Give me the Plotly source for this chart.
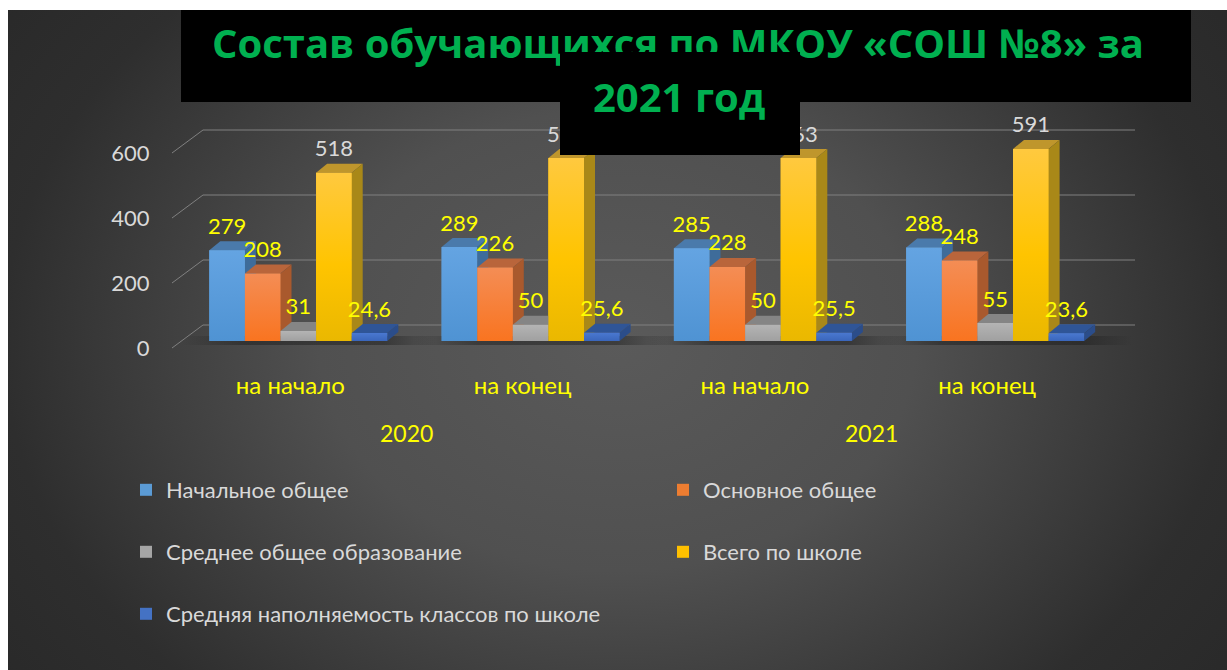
import base64
import plotly.graph_objects as go

# ---------- data ----------
periods = ["на начало", "на конец", "на начало", "на конец"]
years = ["2020", "2021"]
series_names = ["Начальное общее", "Основное общее", "Среднее общее образование",
                "Всего по школе", "Средняя наполняемость классов по школе"]
primary = [279, 289, 285, 288]
basic = [208, 226, 228, 248]
secondary = [31, 50, 50, 55]
total = [518, 563, 563, 591]
avg_fill = [24.6, 25.6, 25.5, 23.6]
y_ticks = [0, 200, 400, 600]
title_line1 = "Состав обучающихся по МКОУ «СОШ №8» за"
title_line2 = "2021 год"

W, H = 1227, 670
PX_PER_GROUP = 232.3
PX_PER_VAL = 0.325
X0_PX = 298.3     # pixel of group 0 centre
Y0_PX = 348.0     # pixel of value 0 on the front edge
AXIS_L = 172
AXIS_B = 361

FONT = "Lato, 'Noto Sans', sans-serif"
YEL = "#ffff00"
GREY_T = "#d9d9d9"

all_values = [primary, basic, secondary, total, avg_fill]
styles = [
    dict(cs=[[0, "#4f93d3"], [1, "#64a4e2"]], main="#5b9bd5", top="#4a7aab", side="#3e6c9a", lab=YEL),
    dict(cs=[[0, "#f97420"], [1, "#f48d55"]], main="#ed7d31", top="#b9653b", side="#a9592d", lab=YEL),
    dict(cs=[[0, "#a0a0a0"], [1, "#b4b4b4"]], main="#a5a5a5", top="#858585", side="#757575", lab=YEL),
    dict(cs=[[0, "#eab800"], [0.45, "#ffc400"], [1, "#ffc93f"]], main="#ffc000", top="#bf962c", side="#a98818", lab=GREY_T),
    dict(cs=[[0, "#3a66bb"], [1, "#4a78d0"]], main="#4472c4", top="#2f5597", side="#2b4d8a", lab=YEL),
]

dx = lambda px: px / PX_PER_GROUP
dv = lambda px: px / PX_PER_VAL

BASE = dv(Y0_PX - 341)
BAR_W = dx(35.6)
GROUP_W = BAR_W * 5
D_X, D_V = dx(11), dv(9)
GRID_DX, GRID_DV = dx(31), dv(23)
x_left = (AXIS_L - X0_PX) / PX_PER_GROUP
x_right_grid = (1135 - X0_PX) / PX_PER_GROUP

fig = go.Figure()

# grid of the 3D back wall, driven by the y ticks
for v in y_ticks:
    fig.add_trace(go.Scatter(
        x=[x_left, x_left + GRID_DX, x_right_grid],
        y=[v, v + GRID_DV, v + GRID_DV],
        mode="lines", line=dict(color="#808080", width=1),
        showlegend=False, hoverinfo="skip"))

# base bars: they carry the legend
legend_pos = [(146, 490), (683, 490), (146, 552), (683, 552), (146, 614)]
for j, (name, vals, st) in enumerate(zip(series_names, all_values, styles)):
    fig.add_trace(go.Bar(
        x=list(range(len(periods))), y=vals, base=BASE, name=name,
        marker=dict(color=st["main"], line=dict(width=0)),
        legend="legend" if j == 0 else f"legend{j + 1}"))

# soft shadow under each group
for i in range(len(periods)):
    l = i - GROUP_W / 2 - dx(28)
    r = i + GROUP_W / 2 + dx(48)
    fig.add_trace(go.Scatter(
        x=[l, r, r, l, l],
        y=[BASE - dv(4)] * 2 + [BASE + dv(5)] * 2 + [BASE - dv(4)],
        mode="none", fill="toself",
        fillgradient=dict(type="horizontal", colorscale=[
            [0, "rgba(25,25,25,0)"], [0.25, "rgba(25,25,25,0.45)"],
            [0.8, "rgba(25,25,25,0.45)"], [1, "rgba(25,25,25,0)"]]),
        showlegend=False, hoverinfo="skip"))

# 3D faces, painted left to right so that each bar overlaps its neighbour's side
for i in range(len(periods)):
    for j, (vals, st) in enumerate(zip(all_values, styles)):
        v = vals[i]
        x0 = i - GROUP_W / 2 + j * BAR_W
        x1 = x0 + BAR_W
        t = BASE + v
        fig.add_trace(go.Scatter(
            x=[x0, x0 + D_X, x1 + D_X, x1, x0], y=[t, t + D_V, t + D_V, t, t],
            mode="none", fill="toself", fillcolor=st["top"],
            showlegend=False, hoverinfo="skip"))
        fig.add_trace(go.Scatter(
            x=[x1, x1 + D_X, x1 + D_X, x1, x1], y=[BASE, BASE + D_V, t + D_V, t, BASE],
            mode="none", fill="toself", fillcolor=st["side"],
            showlegend=False, hoverinfo="skip"))
        fig.add_trace(go.Scatter(
            x=[x0, x1, x1, x0, x0], y=[BASE, BASE, t, t, BASE],
            mode="none", fill="toself",
            fillgradient=dict(type="vertical", colorscale=st["cs"]),
            showlegend=False, hoverinfo="skip"))

# value labels
for j, (vals, st) in enumerate(zip(all_values, styles)):
    fig.add_trace(go.Scatter(
        x=[i - GROUP_W / 2 + (j + 0.5) * BAR_W for i in range(len(vals))],
        y=[BASE + v + D_V + dv(13) for v in vals],
        text=[str(v).replace(".", ",") for v in vals],
        mode="text", textposition="middle center",
        textfont=dict(family=FONT, size=22, color=st["lab"]),
        showlegend=False, hoverinfo="skip"))

# ---------- background ----------
svg = ('<svg xmlns="http://www.w3.org/2000/svg" width="1219" height="660">'
       '<defs><radialGradient id="g" cx="0.5" cy="0.5" r="1" '
       'gradientTransform="translate(0.5 0.5) scale(0.7 1) translate(-0.5 -0.5)">'
       '<stop offset="0" stop-color="#5a5a5a"/><stop offset="0.35" stop-color="#505050"/>'
       '<stop offset="0.72" stop-color="#2e2e2e"/>'
       '<stop offset="1" stop-color="#262626"/></radialGradient></defs>'
       '<rect width="1219" height="660" fill="url(#g)"/></svg>')
bg = "data:image/svg+xml;base64," + base64.b64encode(svg.encode()).decode()

px_x = lambda p: p / W
px_y = lambda p: 1 - p / H


def box(x0, y0, x1, y1):
    return dict(type="rect", xref="paper", yref="paper", x0=px_x(x0), x1=px_x(x1),
                y0=px_y(y1), y1=px_y(y0), fillcolor="#000000", line=dict(width=0), layer="above")


TITLE_FONT = dict(family="'Open Sans', 'Noto Sans', sans-serif", size=40, color="#00b050", weight=700)
annotations = [
    dict(text=title_line1, xref="paper", yref="paper", x=px_x(678), y=px_y(43),
         xanchor="center", yanchor="middle", showarrow=False, font=TITLE_FONT),
    dict(text=" ", xref="paper", yref="paper", x=px_x(560), y=px_y(52), xanchor="left", yanchor="top",
         width=240, height=103, bgcolor="#000000", borderpad=0, borderwidth=0, showarrow=False),
    dict(text=title_line2, xref="paper", yref="paper", x=px_x(679), y=px_y(96),
         xanchor="center", yanchor="middle", showarrow=False, font=TITLE_FONT),
]
for yr, xp in zip(years, [406, 871]):
    annotations.append(dict(text=yr, xref="paper", yref="paper", x=px_x(xp), y=px_y(433),
                            xanchor="center", yanchor="middle", showarrow=False,
                            font=dict(family=FONT, size=23, color=YEL)))

legends = {}
for j, (lx, ly) in enumerate(legend_pos):
    legends["legend" if j == 0 else f"legend{j + 1}"] = dict(
        x=px_x(lx - 20), y=px_y(ly), xanchor="left", yanchor="middle",
        bgcolor="rgba(0,0,0,0)", borderwidth=0,
        font=dict(family=FONT, size=22, color=GREY_T))

fig.update_layout(
    width=W, height=H, autosize=False, margin=dict(l=0, r=0, t=0, b=0),
    paper_bgcolor="#ffffff", plot_bgcolor="rgba(0,0,0,0)",
    barmode="group", bargap=1 - GROUP_W, bargroupgap=0,
    xaxis=dict(domain=[px_x(AXIS_L), 1],
               range=[x_left, (W - X0_PX) / PX_PER_GROUP],
               tickmode="array", tickvals=[i - dx(8) for i in range(len(periods))],
               ticktext=periods, showgrid=False, zeroline=False, showline=False,
               ticks="outside", ticklen=3, tickcolor="rgba(0,0,0,0)",
               tickfont=dict(family=FONT, size=24, color=YEL)),
    yaxis=dict(domain=[px_y(AXIS_B), 1],
               range=[(Y0_PX - AXIS_B) / PX_PER_VAL, Y0_PX / PX_PER_VAL],
               tickmode="array", tickvals=y_ticks, ticktext=[str(t) for t in y_ticks],
               showgrid=False, zeroline=False, showline=False,
               ticks="outside", ticklen=17, tickcolor="rgba(0,0,0,0)",
               tickfont=dict(family=FONT, size=22, color=GREY_T)),
    images=[dict(source=bg, xref="paper", yref="paper", x=px_x(8), y=px_y(10),
                 sizex=1219 / W, sizey=660 / H, xanchor="left", yanchor="top",
                 sizing="stretch", layer="below")],
    shapes=[box(181, 10, 1191, 102)],
    annotations=annotations,
    hovermode=False,
    **legends,
)

fig.write_html("out.html", config=dict(displayModeBar=False),
               post_script="document.body.style.margin='0';document.body.style.overflow='hidden';")
